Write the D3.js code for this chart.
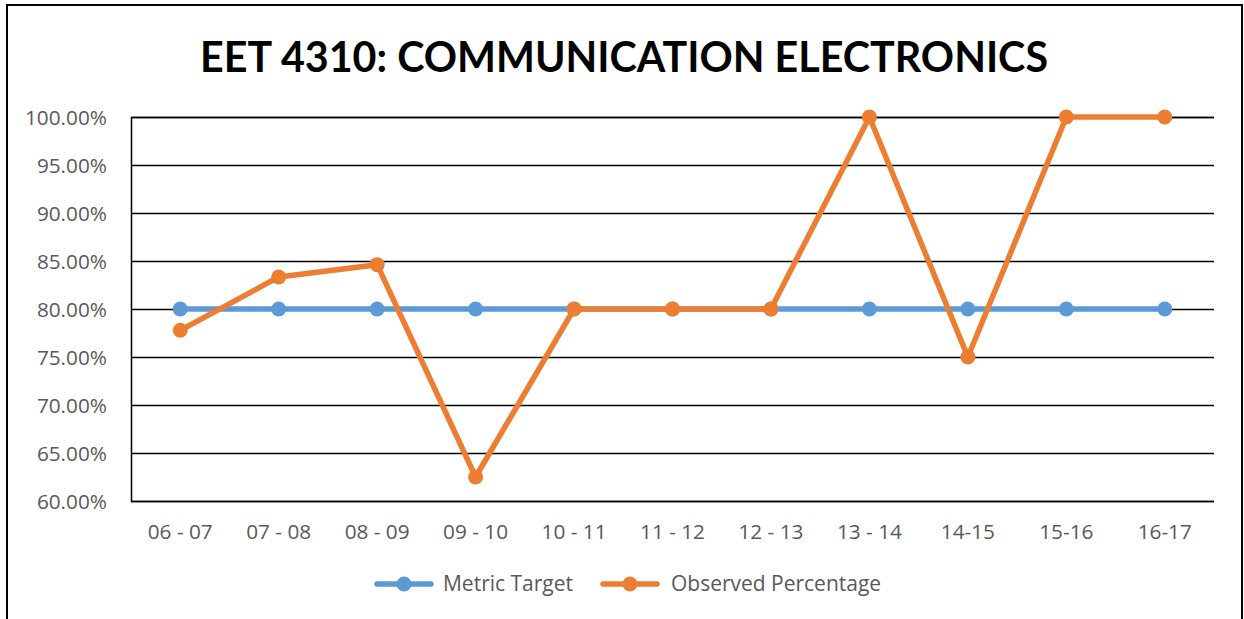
<!DOCTYPE html>
<html><head><meta charset="utf-8">
<script src="https://cdn.jsdelivr.net/npm/d3@7"></script>
<style>html,body{margin:0;padding:0;background:#fff;}svg{display:block;}</style>
</head><body>
<script>
const categories = ["06 - 07","07 - 08","08 - 09","09 - 10","10 - 11","11 - 12","12 - 13","13 - 14","14-15","15-16","16-17"];
const metricTarget = [80,80,80,80,80,80,80,80,80,80,80];
const observedPercentage = [77.78,83.33,84.62,62.5,80,80,80,100,75,100,100];
const yTicks = [60,65,70,75,80,85,90,95,100];
const seriesNames = ["Metric Target","Observed Percentage"];
const title = "EET 4310: COMMUNICATION ELECTRONICS";

const W = 1244, H = 619;
const font = "'Open Sans', Lato, sans-serif";
const titleFont = "Lato, 'Open Sans', sans-serif";
const svg = d3.select("body").append("svg").attr("width", W).attr("height", H);
svg.append("rect").attr("x",7).attr("y",5).attr("width",1235).attr("height",H+10)
  .attr("fill","#fff").attr("stroke","#000").attr("stroke-width",2);

const m = {left:131, right:1214, top:117, bottom:501};
const x = d3.scaleBand().domain(categories).range([m.left, m.right]);
const y = d3.scaleLinear().domain([60,100]).range([m.bottom, m.top]);

// font size such that a sample node has the target width; applied to all in selection
function fitAll(sel, sampleNode, target){
  const w = sampleNode.getComputedTextLength();
  const fs = parseFloat(d3.select(sampleNode).style("font-size"));
  sel.style("font-size",(fs*target/w).toFixed(2)+"px");
}

// gridlines + y labels
const gy = svg.append("g").attr("transform",`translate(${m.left},0)`)
  .call(d3.axisLeft(y).tickValues(yTicks).tickSize(-(m.right-m.left)).tickFormat(d=>d.toFixed(2)+"%").tickPadding(24))
  .call(g=>{g.select(".domain").attr("stroke","#000").attr("stroke-width",1.5);
    g.selectAll(".tick line").attr("stroke","#000").attr("stroke-width",1.5);
    g.selectAll("text").attr("fill","#595959").style("font-family",font).style("font-size","20px").attr("dy","0.34em");});
const yText = gy.selectAll("text");
fitAll(yText, yText.nodes()[yText.size()-1], 82);

const gx = svg.append("g").attr("transform",`translate(0,${m.bottom})`)
  .call(d3.axisBottom(x).tickSize(0).tickPadding(0))
  .call(g=>{g.select(".domain").remove();
    g.selectAll("text").attr("fill","#595959").style("font-family",font).style("font-size","20px")
      .attr("y",31).attr("dy","0.34em");});
const xText = gx.selectAll("text");
fitAll(xText, xText.nodes()[0], 65);

const colors = ["#5B9BD5","#ED7D31"];
const series = [metricTarget, observedPercentage];
const line = d3.line().x((d,i)=>x(categories[i])+x.bandwidth()/2).y(d=>y(d));
series.forEach((s,k)=>{
  svg.append("path").datum(s).attr("d",line).attr("fill","none")
    .attr("stroke",colors[k]).attr("stroke-width",5.5).attr("stroke-linejoin","round");
  svg.append("g").selectAll("circle").data(s).join("circle")
    .attr("cx",(d,i)=>x(categories[i])+x.bandwidth()/2).attr("cy",d=>y(d))
    .attr("r",7.5).attr("fill",colors[k]);
});

// title
const t = svg.append("text").attr("x",624).attr("y",72).attr("text-anchor","middle")
  .style("font-family",titleFont).style("font-weight","bold").style("font-size","40px").attr("fill","#000").text(title);
fitAll(t, t.node(), 848);

// legend
const legX = [377, 603];
const textX = [443, 671];
const leg = svg.append("g");
seriesNames.forEach((n,k)=>{
  const g = leg.append("g").attr("transform",`translate(${legX[k]},584)`);
  g.append("line").attr("x1",0).attr("x2",54).attr("stroke",colors[k]).attr("stroke-width",5.5).attr("stroke-linecap","round");
  g.append("circle").attr("cx",27).attr("r",7.5).attr("fill",colors[k]);
  g.append("text").attr("class","legtext").attr("x",textX[k]-legX[k]).attr("dy","0.34em").attr("fill","#595959")
    .style("font-family",font).style("font-size","20px").text(n);
});
const lt = leg.selectAll("text.legtext");
fitAll(lt, lt.nodes()[0], 130);
</script>
</body></html>
